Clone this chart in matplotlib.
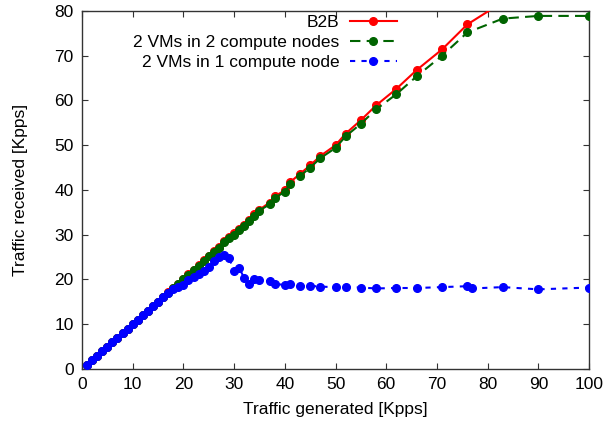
import numpy as np
import matplotlib
matplotlib.use('Agg')
import matplotlib.pyplot as plt

plt.rcParams['font.family'] = ['Liberation Sans', 'DejaVu Sans']

# offered load (Kpps) for the B2B and two-node runs
gen_x = [1, 2, 3, 4, 5, 6, 7, 8, 9, 10, 11, 12, 13, 14, 15, 16, 17, 18, 19,
         20, 21, 22, 23, 24, 25, 26, 27, 28, 29, 30, 31, 32, 33, 34, 35, 37,
         38, 40, 41, 43, 45, 47, 50, 52, 55, 58, 62, 66, 71, 76, 83, 90, 100]

b2b = [1.0, 2.0, 3.0, 4.0, 5.0, 6.0, 7.0, 8.0, 9.0, 10.0, 11.0, 12.0, 13.0,
       14.0, 15.0, 16.1, 17.1, 18.1, 19.1, 20.1, 21.2, 22.2, 23.3, 24.3,
       25.3, 26.3, 27.2, 28.6, 29.4, 30.3, 31.2, 32.2, 33.3, 34.6, 35.6,
       37.2, 38.6, 39.9, 41.7, 43.6, 45.5, 47.6, 50.0, 52.6, 55.6, 58.9,
       62.6, 66.8, 71.4, 77.0, 82.0, 89.0, 99.0]

two_nodes = [1.0, 2.0, 3.0, 4.0, 5.0, 6.0, 7.0, 8.0, 9.0, 10.0, 11.0, 12.0,
             13.0, 14.0, 15.0, 16.0, 17.0, 18.0, 19.0, 20.0, 21.1, 22.1,
             23.1, 24.2, 25.2, 26.2, 27.0, 28.3, 29.2, 30.0, 31.0, 32.0,
             33.1, 34.3, 35.4, 36.8, 38.2, 39.6, 41.3, 43.1, 45.0, 47.1,
             49.4, 52.0, 54.8, 58.0, 61.4, 65.4, 70.0, 75.2, 78.3, 78.9, 78.9]

# single-node run
one_x = [1, 2, 3, 4, 5, 6, 7, 8, 9, 10, 11, 12, 13, 14, 15, 16, 17, 18, 19,
         20, 21, 22, 23, 24, 25, 26, 27, 28, 29, 30, 31, 32, 33, 34, 35, 37,
         38, 40, 41, 43, 45, 47, 50, 52, 55, 58, 62, 66, 71, 76, 77, 83, 90,
         100]

one_node = [1.0, 2.0, 3.0, 4.0, 5.0, 6.0, 7.0, 8.0, 9.0, 10.0, 11.0, 12.0,
            13.0, 14.0, 15.0, 16.0, 17.0, 17.9, 18.4, 18.8, 19.8, 20.6,
            21.3, 22.0, 22.8, 24.2, 25.0, 25.5, 24.9, 21.8, 22.6, 20.3,
            19.1, 20.1, 19.9, 19.6, 19.0, 18.8, 18.9, 18.5, 18.6, 18.4,
            18.3, 18.3, 18.2, 18.0, 18.1, 18.1, 18.3, 18.5, 18.0, 18.3,
            17.8, 18.2]

fig = plt.figure(figsize=(6.05, 4.26), dpi=100)
ax = fig.add_axes([0.1355, 0.1338, 0.8381, 0.8404])

ax.plot(gen_x, b2b, color='#ff0000', lw=1.5, marker='o', ms=5.5,
        label='B2B', zorder=3)
ax.plot(gen_x, two_nodes, color='#006400', lw=1.5, ls=(0, (5, 3)),
        marker='o', ms=5.5, label='2 VMs in 2 compute nodes', zorder=4)
ax.plot(one_x, one_node, color='#0000ff', lw=1.5, ls=(0, (2.5, 3)),
        marker='o', ms=5.5, label='2 VMs in 1 compute node', zorder=5)

ax.set_xlim(0, 100)
ax.set_ylim(0, 80)
ax.set_xticks(np.arange(0, 101, 10))
ax.set_yticks(np.arange(0, 81, 10))
ax.tick_params(direction='in', length=4.5, width=0.8, top=True, right=True,
               labelsize=12.5, pad=6, color='#333333')
for sp in ax.spines.values():
    sp.set_linewidth(1.0)
    sp.set_color('#333333')

ax.set_xlabel('Traffic generated [Kpps]', fontsize=12.5, labelpad=7)
ax.set_ylabel('Traffic received [Kpps]', fontsize=12.5, labelpad=19)

ax.legend(loc='upper right', bbox_to_anchor=(0.621, 0.99), frameon=False,
          markerfirst=False, fontsize=12.5, handlelength=2.7,
          handletextpad=0.6, labelspacing=0.29, borderpad=0,
          borderaxespad=0)

fig.savefig('out.png', dpi=100)
